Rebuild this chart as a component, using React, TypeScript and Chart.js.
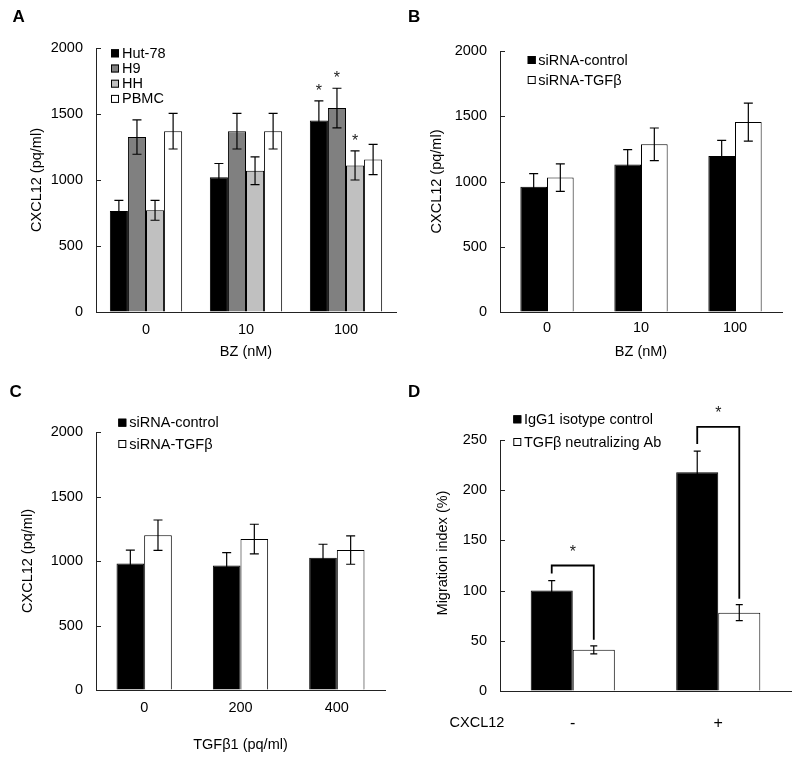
import React, { useEffect, useRef } from "react";
import { Chart, registerables } from "chart.js";

Chart.register(...registerables);

const FONT = "Arial, 'Liberation Sans', Helvetica, sans-serif";
const FS = 14.5;

// ---------- Panel A : CXCL12 vs BZ, four cell types ----------
const catsA = ["0", "10", "100"];
const hut78 = [765, 1020, 1450];
const hut78Err = [80, 105, 150];
const h9 = [1325, 1370, 1545];
const h9Err = [130, 135, 150];
const hh = [770, 1070, 1110];
const hhErr = [75, 105, 110];
const pbmc = [1370, 1370, 1155];
const pbmcErr = [135, 135, 115];
const hut78Star = [false, false, true];
const h9Star = [false, false, true];
const hhStar = [false, false, true];
const pbmcStar = [false, false, false];

// ---------- Panel B : siRNA, BZ ----------
const catsB = ["0", "10", "100"];
const ctrlB = [960, 1130, 1195];
const ctrlBErr = [100, 115, 120];
const tgfB = [1030, 1285, 1455];
const tgfBErr = [105, 125, 145];

// ---------- Panel C : siRNA, TGFβ1 ----------
const catsC = ["0", "200", "400"];
const ctrlC = [980, 965, 1025];
const ctrlCErr = [105, 100, 105];
const tgfC = [1200, 1170, 1085];
const tgfCErr = [118, 115, 110];

// ---------- Panel D : migration index ----------
const catsD = ["-", "+"];
const iggD = [100, 218];
const iggDErr = [10, 21];
const nabD = [41, 78];
const nabDErr = [4, 8];
const bracketTopD = [125, 263];

// ---------- plugins ----------
const errorBars = {
  id: "errorBars",
  afterDatasetsDraw(chart: any) {
    const ctx = chart.ctx;
    const ys = chart.scales.y;
    chart.data.datasets.forEach((ds: any, i: number) => {
      if (!ds.errors) return;
      const meta = chart.getDatasetMeta(i);
      meta.data.forEach((el: any, j: number) => {
        const v = ds.data[j];
        const e = ds.errors[j];
        const yt = ys.getPixelForValue(v + e);
        const yb = ys.getPixelForValue(v - e);
        const cap = ds.cap ?? 4.5;
        ctx.save();
        ctx.strokeStyle = "#000";
        ctx.lineWidth = 1.2;
        ctx.beginPath();
        ctx.moveTo(el.x, yt);
        ctx.lineTo(el.x, yb);
        ctx.moveTo(el.x - cap, yt);
        ctx.lineTo(el.x + cap, yt);
        ctx.moveTo(el.x - cap, yb);
        ctx.lineTo(el.x + cap, yb);
        ctx.stroke();
        if (ds.stars && ds.stars[j]) {
          ctx.fillStyle = "#222";
          ctx.font = `16px ${FONT}`;
          ctx.textAlign = "center";
          ctx.textBaseline = "alphabetic";
          ctx.fillText("*", el.x, yt - 5);
        }
        ctx.restore();
      });
    });
  },
};

const inwardTicks = {
  id: "inwardTicks",
  afterDraw(chart: any) {
    const ctx = chart.ctx;
    const ys = chart.scales.y;
    const left = chart.chartArea.left;
    ctx.save();
    ctx.strokeStyle = "#222";
    ctx.lineWidth = 1;
    ctx.beginPath();
    ys.ticks.forEach((t: any) => {
      const y = Math.round(ys.getPixelForValue(t.value)) + 0.5;
      ctx.moveTo(left, y);
      ctx.lineTo(left + 5, y);
    });
    ctx.stroke();
    ctx.restore();
  },
};

function makeLegend(x: number, y0: number, dy: number, gap: number, size = 8) {
  return {
    id: "boxLegend",
    afterDraw(chart: any) {
      const ctx = chart.ctx;
      ctx.save();
      chart.data.datasets.forEach((ds: any, i: number) => {
        const cy = y0 + i * dy;
        ctx.fillStyle = ds.backgroundColor;
        ctx.fillRect(x, cy - size / 2, size, size);
        ctx.strokeStyle = "#000";
        ctx.lineWidth = 1;
        ctx.strokeRect(x + 0.5, cy - size / 2 + 0.5, size - 1, size - 1);
        ctx.fillStyle = "#000";
        ctx.font = `${FS}px ${FONT}`;
        ctx.textAlign = "left";
        ctx.textBaseline = "middle";
        ctx.fillText(ds.label, x + size + gap, cy + 0.5);
      });
      ctx.restore();
    },
  };
}

type TextItem = { text: string; x: number; y: number; rotate?: boolean; size?: number };
function makeTexts(items: TextItem[]) {
  return {
    id: "texts",
    afterDraw(chart: any) {
      const ctx = chart.ctx;
      items.forEach((it) => {
        ctx.save();
        ctx.fillStyle = "#000";
        ctx.font = `${it.size ?? FS}px ${FONT}`;
        ctx.textAlign = "center";
        ctx.textBaseline = "middle";
        ctx.translate(it.x, it.y);
        if (it.rotate) ctx.rotate(-Math.PI / 2);
        ctx.fillText(it.text, 0, 0);
        ctx.restore();
      });
    },
  };
}

const brackets = {
  id: "brackets",
  afterDatasetsDraw(chart: any) {
    const ctx = chart.ctx;
    const ys = chart.scales.y;
    const d0 = chart.data.datasets[0];
    const d1 = chart.data.datasets[1];
    const m0 = chart.getDatasetMeta(0);
    const m1 = chart.getDatasetMeta(1);
    bracketTopD.forEach((top, j) => {
      const x0 = m0.data[j].x;
      const x1 = m1.data[j].x;
      const yl = ys.getPixelForValue(d0.data[j] + d0.errors[j]) - 7;
      const yr = ys.getPixelForValue(d1.data[j] + d1.errors[j]) - 6;
      const yt = ys.getPixelForValue(top);
      ctx.save();
      ctx.strokeStyle = "#000";
      ctx.lineWidth = 1.8;
      ctx.beginPath();
      ctx.moveTo(x0, yl);
      ctx.lineTo(x0, yt);
      ctx.lineTo(x1, yt);
      ctx.lineTo(x1, yr);
      ctx.stroke();
      ctx.fillStyle = "#222";
      ctx.font = `16px ${FONT}`;
      ctx.textAlign = "center";
      ctx.textBaseline = "alphabetic";
      ctx.fillText("*", (x0 + x1) / 2, yt - 9);
      ctx.restore();
    });
  },
};

function ds(label: string, data: number[], errors: number[], color: string, catPct: number, stars?: boolean[]) {
  return {
    label,
    data,
    errors,
    stars,
    backgroundColor: color,
    borderColor: "#000",
    borderWidth: 1,
    categoryPercentage: catPct,
    barPercentage: 1,
  };
}

type OptArgs = {
  padTop: number;
  padRight: number;
  yWidth: number;
  xHeight: number;
  yMax: number;
  yStep: number;
  xTickPad: number;
  xTickSize?: number;
  xTitle?: string;
  xTitlePadBottom?: number;
  yTitle?: string;
  yTitlePadTop?: number;
};

function makeOptions(a: OptArgs) {
  return {
    responsive: false,
    animation: false,
    devicePixelRatio: 1,
    layout: { padding: { top: a.padTop, right: a.padRight, bottom: 0, left: 0 } },
    plugins: { legend: { display: false }, tooltip: { enabled: false } },
    scales: {
      x: {
        afterFit: (s: any) => {
          s.height = a.xHeight;
        },
        grid: { display: true, drawOnChartArea: false, drawTicks: false },
        border: { display: true, color: "#222", width: 1 },
        ticks: { color: "#000", padding: a.xTickPad, font: { family: FONT, size: a.xTickSize ?? FS } },
        title: a.xTitle
          ? {
              display: true,
              text: a.xTitle,
              color: "#000",
              font: { family: FONT, size: FS },
              padding: { top: 0, bottom: a.xTitlePadBottom ?? 0 },
            }
          : { display: false },
      },
      y: {
        min: 0,
        max: a.yMax,
        afterFit: (s: any) => {
          s.width = a.yWidth;
        },
        grid: { display: true, drawOnChartArea: false, drawTicks: false },
        border: { display: true, color: "#222", width: 1 },
        ticks: {
          stepSize: a.yStep,
          color: "#000",
          padding: 13,
          font: { family: FONT, size: FS },
          callback: (v: any) => String(v),
        },
        title: a.yTitle
          ? {
              display: true,
              text: a.yTitle,
              color: "#000",
              font: { family: FONT, size: FS },
              padding: { top: a.yTitlePadTop ?? 0, bottom: 0 },
            }
          : { display: false },
      },
    },
  };
}

const buildA = () => ({
  type: "bar",
  data: {
    labels: catsA,
    datasets: [
      ds("Hut-78", hut78, hut78Err, "#000000", 0.723, hut78Star),
      ds("H9", h9, h9Err, "#808080", 0.723, h9Star),
      ds("HH", hh, hhErr, "#c0c0c0", 0.723, hhStar),
      ds("PBMC", pbmc, pbmcErr, "#ffffff", 0.723, pbmcStar),
    ],
  },
  options: makeOptions({
    padTop: 48,
    padRight: 4,
    yWidth: 96,
    xHeight: 68,
    yMax: 2000,
    yStep: 500,
    xTickPad: 9.5,
    xTitle: "BZ (nM)",
    xTitlePadBottom: 19.5,
    yTitle: "CXCL12 (pq/ml)",
    yTitlePadTop: 28.3,
  }),
  plugins: [errorBars, inwardTicks, makeLegend(111, 53.3, 15.2, 3)],
});

const buildB = () => ({
  type: "bar",
  data: {
    labels: catsB,
    datasets: [
      ds("siRNA-control", ctrlB, ctrlBErr, "#000000", 0.567),
      ds("siRNA-TGFβ", tgfB, tgfBErr, "#ffffff", 0.567),
    ],
  },
  options: makeOptions({
    padTop: 51,
    padRight: 18,
    yWidth: 100,
    xHeight: 68,
    yMax: 2000,
    yStep: 500,
    xTickPad: 7.3,
    xTitle: "BZ (nM)",
    xTitlePadBottom: 19.5,
    yTitle: "CXCL12 (pq/ml)",
    yTitlePadTop: 28.3,
  }),
  plugins: [errorBars, inwardTicks, makeLegend(127.7, 60, 20, 2.6)],
});

const buildC = () => ({
  type: "bar",
  data: {
    labels: catsC,
    datasets: [
      ds("siRNA-control", ctrlC, ctrlCErr, "#000000", 0.574),
      ds("siRNA-TGFβ", tgfC, tgfCErr, "#ffffff", 0.574),
    ],
  },
  options: makeOptions({
    padTop: 52,
    padRight: 15,
    yWidth: 96,
    xHeight: 71,
    yMax: 2000,
    yStep: 500,
    xTickPad: 9.3,
    xTitle: "TGFβ1 (pq/ml)",
    xTitlePadBottom: 7.3,
    yTitle: "CXCL12 (pq/ml)",
    yTitlePadTop: 19.3,
  }),
  plugins: [errorBars, inwardTicks, makeLegend(118.3, 42.7, 21.3, 3)],
});

const buildD = () => ({
  type: "bar",
  data: {
    labels: catsD,
    datasets: [
      { ...ds("IgG1 isotype control", iggD, iggDErr, "#000000", 0.578), cap: 3.5 },
      { ...ds("TGFβ neutralizing Ab", nabD, nabDErr, "#ffffff", 0.578), cap: 3.5 },
    ],
  },
  options: makeOptions({
    padTop: 60,
    padRight: 9,
    yWidth: 100,
    xHeight: 70,
    yMax: 250,
    yStep: 50,
    xTickPad: 22.5,
    xTickSize: 16,
  }),
  plugins: [
    errorBars,
    brackets,
    inwardTicks,
    makeLegend(113.3, 39.3, 22.7, 2.7),
    makeTexts([
      { text: "CXCL12", x: 77, y: 342.7 },
      { text: "Migration index (%)", x: 42.7, y: 173, rotate: true },
    ]),
  ],
});

function Panel(props: { left: number; top: number; width: number; height: number; build: () => any }) {
  const ref = useRef<HTMLCanvasElement>(null);
  useEffect(() => {
    const chart = new Chart(ref.current as HTMLCanvasElement, props.build());
    return () => chart.destroy();
  }, []);
  return (
    <canvas
      ref={ref}
      width={props.width}
      height={props.height}
      style={{ position: "absolute", left: props.left, top: props.top, width: props.width, height: props.height }}
    />
  );
}

function Letter(props: { ch: string; left: number; top: number }) {
  return (
    <div
      style={{
        position: "absolute",
        left: props.left,
        top: props.top,
        fontFamily: FONT,
        fontWeight: "bold",
        fontSize: 17,
        lineHeight: "17px",
        color: "#000",
      }}
    >
      {props.ch}
    </div>
  );
}

export default function App() {
  return (
    <div style={{ position: "absolute", left: 0, top: 0, width: 800, height: 761, background: "#fff", overflow: "hidden" }}>
      <Panel left={0} top={0} width={400} height={380} build={buildA} />
      <Panel left={400} top={0} width={400} height={380} build={buildB} />
      <Panel left={0} top={380} width={400} height={381} build={buildC} />
      <Panel left={400} top={380} width={400} height={381} build={buildD} />
      <Letter ch="A" left={12.5} top={8} />
      <Letter ch="B" left={408} top={8} />
      <Letter ch="C" left={9.5} top={383} />
      <Letter ch="D" left={408} top={383} />
    </div>
  );
}
